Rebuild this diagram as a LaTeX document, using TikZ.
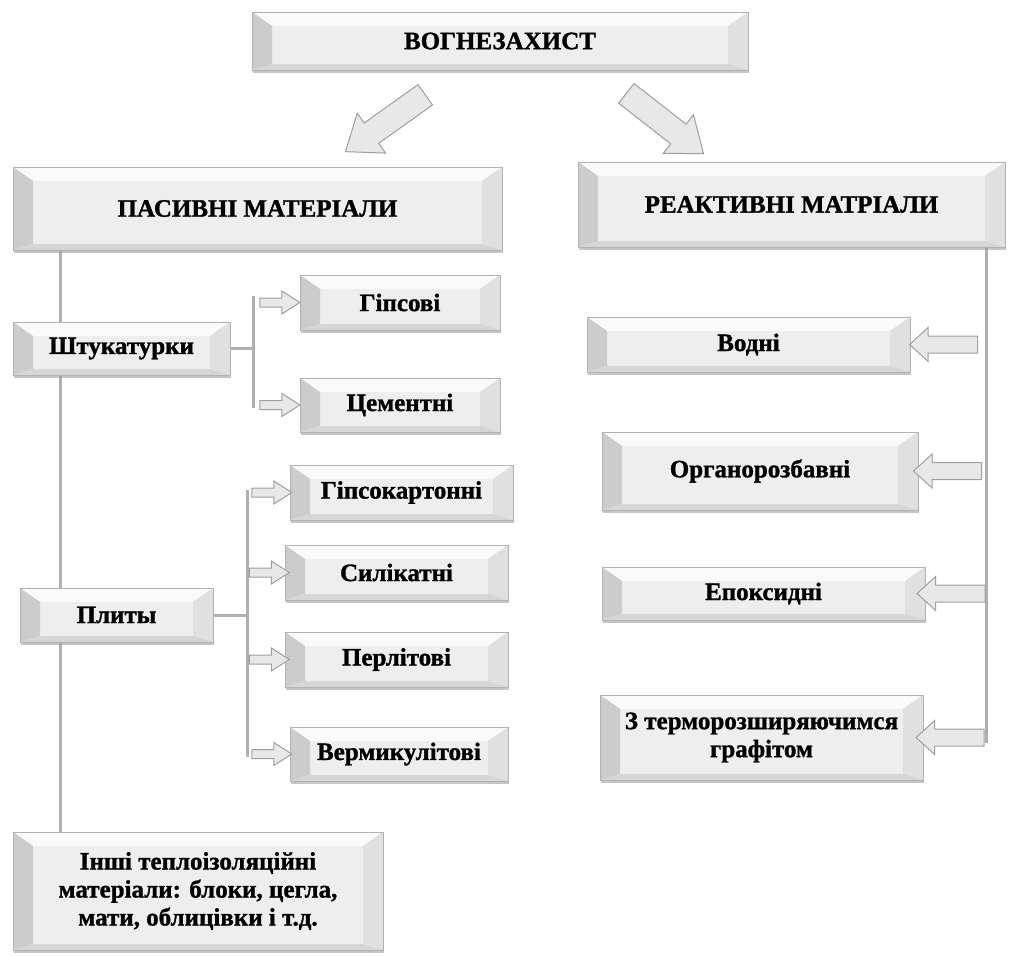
\documentclass[tikz,border=0pt]{standalone}
\usepackage{fontspec}
\setmainfont[BoldFeatures={FakeBold=1.2}]{Liberation Serif}
\usetikzlibrary{shapes.arrows,shadows,backgrounds,calc}
\tikzset{
  box/.style 2 args={minimum width=#1, minimum height=#2, inner sep=2pt, align=center,
    font=\bfseries\fontsize{25}{28}\selectfont, text=black,
    fill=gray!13, draw=gray!60, line width=0.7pt,
    drop shadow={shadow xshift=1pt, shadow yshift=-2.5pt, fill=gray!75, opacity=0.6},
    path picture={
      \path (path picture bounding box.north west) coordinate (bvA)
            (path picture bounding box.north east) coordinate (bvB)
            (path picture bounding box.south east) coordinate (bvC)
            (path picture bounding box.south west) coordinate (bvD);
      \path ([shift={(20pt,-14pt)}]bvA) coordinate (bvE)
            ([shift={(-20pt,-14pt)}]bvB) coordinate (bvF)
            ([shift={(-20pt,6pt)}]bvC) coordinate (bvG)
            ([shift={(20pt,6pt)}]bvD) coordinate (bvH);
      \fill[gray!4] (bvA)--(bvB)--(bvF)--(bvE)--cycle;
      \fill[gray!40] (bvA)--(bvE)--(bvH)--(bvD)--cycle;
      \fill[gray!24] (bvB)--(bvC)--(bvG)--(bvF)--cycle;
      \fill[gray!32] (bvD)--(bvH)--(bvG)--(bvC)--cycle;
    }},
  conn/.style={draw=gray!62, line width=3pt},
  arrowbase/.style={single arrow, draw=gray!75, fill=gray!18, line width=1pt,
    sloped, allow upside down, midway},
  sarrow/.style={arrowbase, inner sep=4pt, minimum height=40pt,
    single arrow head extend=7pt, single arrow tip angle=65},
  barrow/.style={arrowbase, inner sep=8pt, minimum height=68pt,
    single arrow head extend=8.5pt, single arrow tip angle=85},
  darrow/.style={arrowbase, inner sep=12pt, minimum height=98pt,
    single arrow head extend=12pt, single arrow tip angle=75},
}
\begin{document}
\begin{tikzpicture}[x=1pt,y=-1pt]
\useasboundingbox (0,0) rectangle (1009,956);

% boxes
\node[box={496pt}{58pt}] (top) at (500,41) {ВОГНЕЗАХИСТ};
\node[box={489pt}{83pt}] (pas) at (257.5,208.5) {ПАСИВНІ МАТЕРІАЛИ};
\node[box={427pt}{85pt}] (rea) at (791.5,204.5) {РЕАКТИВНІ МАТРІАЛИ};

\node[box={217pt}{53pt}] (shtuk) at (121.5,348.5) {Штукатурки};
\node[box={200pt}{55pt}] (gips) at (400,302.5) {Гіпсові};
\node[box={200pt}{54pt}] (cem) at (400,405) {Цементні};

\node[box={193pt}{54pt}] (plyty) at (116.5,615) {Плиты};
\node[box={223pt}{55pt}] (gk) at (401.5,492.5) {Гіпсокартонні};
\node[box={223pt}{55pt}] (sil) at (396.5,572.5) {Силікатні};
\node[box={223pt}{55pt}] (perl) at (396.5,659.5) {Перлітові};
\node[box={218pt}{54pt}] (verm) at (399,754) {Вермикулітові};

\node[box={370pt}{118pt}] (inshi) at (198,891) {Інші теплоізоляційні\\матеріали: блоки, цегла,\\мати, облицівки і т.д.};

\node[box={323pt}{55pt}] (vod) at (748.5,344.5) {Водні};
\node[box={316pt}{78pt}] (org) at (760,471) {Органорозбавні};
\node[box={323pt}{53pt}] (epo) at (763.5,593.5) {Епоксидні};
\node[box={323pt}{85pt}] (term) at (761.5,737.5) {З терморозширяючимся\\графітом};

% bus coordinates
\coordinate (lbus) at (60,0);
\coordinate (sbus) at (253,0);
\coordinate (pbus) at (247,0);
\coordinate (rbus) at (986,0);

\begin{scope}[on background layer]
  \fill[white] (0,0) rectangle (1009,956);
  \draw[conn] (pas.south -| lbus) -- (inshi.north -| lbus);
  \draw[conn] (shtuk.east) -- (shtuk.east -| sbus);
  \draw[conn, shorten <=-7pt, shorten >=-3pt] (sbus |- gips.west) -- (sbus |- cem.west);
  \draw[conn] (plyty.east) -- (plyty.east -| pbus);
  \draw[conn, shorten <=-3pt, shorten >=-3pt] (pbus |- gk.west) -- (pbus |- verm.west);
  \draw[conn, shorten >=-5pt] (rea.south -| rbus) -- (rbus |- term.east);
\end{scope}

% small arrows
\path (sbus |- gips.west) -- node[sarrow] {} (gips.west);
\path (sbus |- cem.west) -- node[sarrow] {} (cem.west);
\path (pbus |- gk.west) -- node[sarrow] {} (gk.west);
\path (pbus |- sil.west) -- node[sarrow] {} (sil.west);
\path (pbus |- perl.west) -- node[sarrow] {} (perl.west);
\path (pbus |- verm.west) -- node[sarrow] {} (verm.west);

% right arrows
\path (rbus |- vod.east) -- node[barrow] {} (vod.east);
\path (rbus |- org.east) -- node[barrow] {} (org.east);
\path (rbus |- epo.east) -- node[barrow] {} (epo.east);
\path (rbus |- term.east) -- node[barrow] {} (term.east);

% diagonal arrows
\coordinate (dl1) at (432,90);
\coordinate (dl2) at (352,147);
\coordinate (dr1) at (622,90);
\coordinate (dr2) at (695,147);
\path (dl1) -- node[darrow] {} (dl2);
\path (dr1) -- node[darrow] {} (dr2);
\end{tikzpicture}
\end{document}
